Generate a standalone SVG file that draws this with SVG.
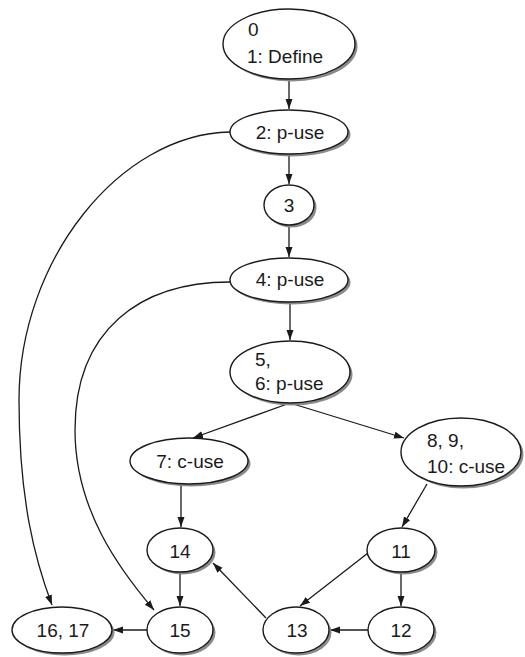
<svg xmlns="http://www.w3.org/2000/svg" width="525" height="657" viewBox="0 0 525 657">
<defs>
<style>
.sh{fill:#8a8a8a;}
.nd{fill:#fff;stroke:#1a1a1a;stroke-width:1.4;}
.t{font-family:"Liberation Sans",Arial,sans-serif;font-size:19px;fill:#1a1a1a;}
.c{text-anchor:middle;}
.e{fill:none;stroke:#1a1a1a;stroke-width:1.3;marker-end:url(#ah);}
</style>
<marker id="ah" markerUnits="userSpaceOnUse" markerWidth="11" markerHeight="8" refX="10" refY="3.5" orient="auto">
<path d="M0,0 L10,3.5 L0,7 z" fill="#1a1a1a"/>
</marker>
</defs>
<rect width="525" height="657" fill="#fff"/>
<g id="connectors">
<path class="e" d="M289,79 L289,109"/>
<path class="e" d="M289,154 L289,184"/>
<path class="e" d="M289,225 L289,257"/>
<path class="e" d="M290,302 L290,340"/>
<path class="e" d="M290,403 L193,438"/>
<path class="e" d="M290,403 L404,438"/>
<path class="e" d="M181,484 L181,527"/>
<path class="e" d="M427,484 L402,527"/>
<path class="e" d="M180,572 L180,606"/>
<path class="e" d="M368,553 L300,606"/>
<path class="e" d="M401,572 L401,606"/>
<path class="e" d="M368,630 L330,630"/>
<path class="e" d="M266,618 L213,563"/>
<path class="e" d="M147,630 L113,630"/>
<path class="e" d="M230,132 C120,134 19,260 19,400 C19,500 35,560 52,605"/>
<path class="e" d="M230,282 C140,282 75,330 75,430 C75,510 120,570 154,610"/>
</g>
<g id="n0"><ellipse class="sh" cx="291.5" cy="46.5" rx="66" ry="35"/><ellipse class="nd" cx="289" cy="44" rx="66" ry="35"/><text class="t" x="248" y="36">0</text><text class="t" x="247" y="63">1: Define</text></g>
<g id="n2"><ellipse class="sh" cx="291.5" cy="134.5" rx="59" ry="22"/><ellipse class="nd" cx="289" cy="132" rx="59" ry="22"/><text class="t c" x="290" y="138.5">2: p-use</text></g>
<g id="n3"><ellipse class="sh" cx="291.5" cy="207.5" rx="25" ry="20"/><ellipse class="nd" cx="289" cy="205" rx="25" ry="20"/><text class="t c" x="289" y="212">3</text></g>
<g id="n4"><ellipse class="sh" cx="291.5" cy="282.5" rx="59" ry="22"/><ellipse class="nd" cx="289" cy="280" rx="59" ry="22"/><text class="t c" x="290" y="286">4: p-use</text></g>
<g id="n5"><ellipse class="sh" cx="292.5" cy="374.5" rx="60" ry="31"/><ellipse class="nd" cx="290" cy="372" rx="60" ry="31"/><text class="t" x="255" y="366">5,</text><text class="t" x="255" y="390">6: p-use</text></g>
<g id="n7"><ellipse class="sh" cx="191.5" cy="463.5" rx="59" ry="23"/><ellipse class="nd" cx="189" cy="461" rx="59" ry="23"/><text class="t c" x="190" y="468">7: c-use</text></g>
<g id="n8"><ellipse class="sh" cx="463.5" cy="454.5" rx="60" ry="34"/><ellipse class="nd" cx="461" cy="452" rx="60" ry="34"/><text class="t" x="427" y="447">8, 9,</text><text class="t" x="427" y="473">10: c-use</text></g>
<g id="n14"><ellipse class="sh" cx="182.5" cy="552.5" rx="33" ry="22"/><ellipse class="nd" cx="180" cy="550" rx="33" ry="22"/><text class="t c" x="180" y="558">14</text></g>
<g id="n11"><ellipse class="sh" cx="403.5" cy="552.5" rx="34" ry="22"/><ellipse class="nd" cx="401" cy="550" rx="34" ry="22"/><text class="t c" x="401" y="558">11</text></g>
<g id="n16"><ellipse class="sh" cx="64.5" cy="632.5" rx="50" ry="23"/><ellipse class="nd" cx="62" cy="630" rx="50" ry="23"/><text class="t c" x="63" y="637">16, 17</text></g>
<g id="n15"><ellipse class="sh" cx="182.5" cy="632.5" rx="33" ry="23"/><ellipse class="nd" cx="180" cy="630" rx="33" ry="23"/><text class="t c" x="180" y="637">15</text></g>
<g id="n13"><ellipse class="sh" cx="298.5" cy="632.5" rx="33" ry="23"/><ellipse class="nd" cx="296" cy="630" rx="33" ry="23"/><text class="t c" x="297" y="637">13</text></g>
<g id="n12"><ellipse class="sh" cx="403.5" cy="632.5" rx="33" ry="23"/><ellipse class="nd" cx="401" cy="630" rx="33" ry="23"/><text class="t c" x="401" y="637">12</text></g>
</svg>
